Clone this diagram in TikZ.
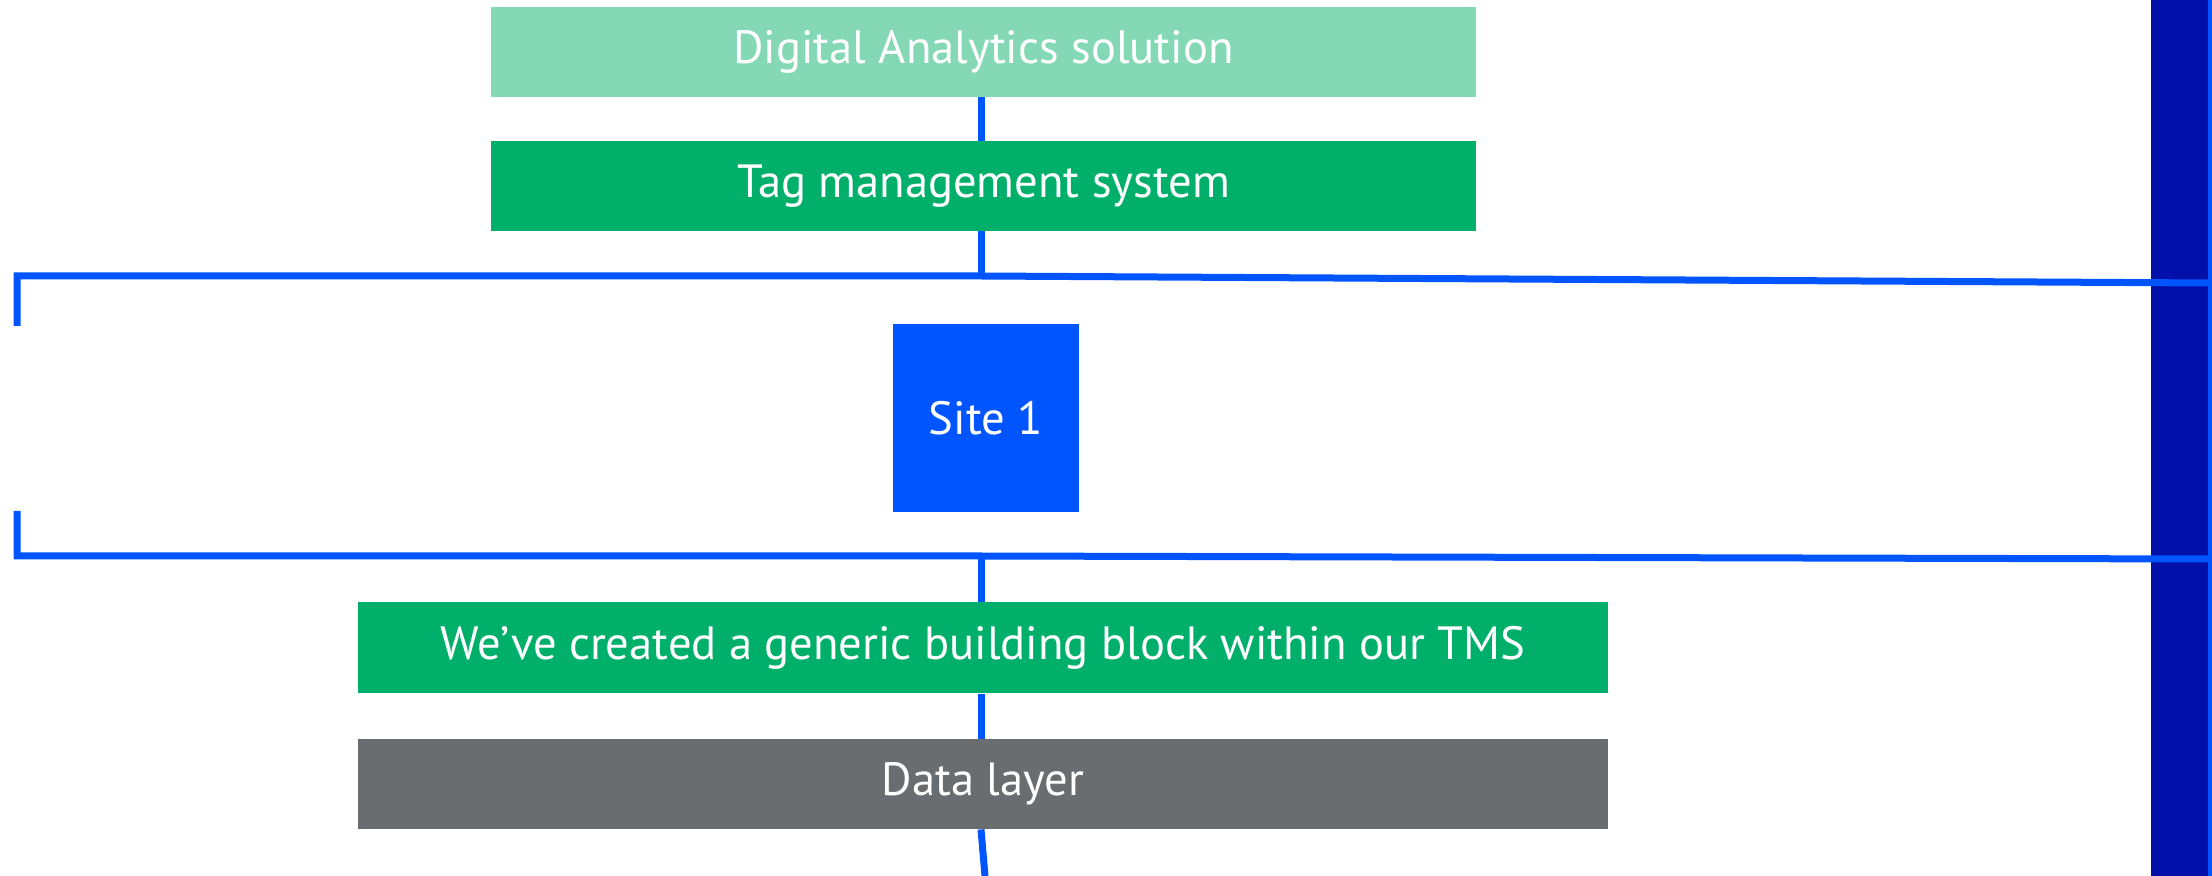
\documentclass[tikz,border=0pt]{standalone}
\usepackage{fontspec}
\setmainfont{PT Sans}
\usetikzlibrary{calc}
\definecolor{lightgreen}{HTML}{84D8B5}
\definecolor{tmsgreen}{HTML}{00B06A}
\definecolor{dlgrey}{HTML}{6A6D70}
\definecolor{siteblue}{HTML}{0055FF}
\definecolor{bandblue}{HTML}{0010A8}
\tikzset{
  box/.style={inner sep=0pt, text=white, font=\fontsize{23.3}{28}\selectfont},
  wire/.style={draw=siteblue, line width=3.5pt},
}
\begin{document}
\begin{tikzpicture}[x=0.5pt, y=-0.5pt]
\useasboundingbox (0,0) rectangle (2212,876);
% right band
\fill[bandblue] (2151,0) rectangle (2208,876);
\fill[siteblue] (2208,0) rectangle (2212,876);
% boxes
\node[box, fill=lightgreen, minimum width=492.5pt, minimum height=45pt] (b1) at (983.5,52) {Digital Analytics solution};
\node[box, fill=tmsgreen, minimum width=492.5pt, minimum height=45pt] (b2) at (983.5,186) {Tag management system};
\node[box, fill=siteblue, minimum width=93pt, minimum height=94pt] (site) at (986,418) {Site 1};
\node[box, fill=tmsgreen, minimum width=625pt, minimum height=45.5pt] (b3) at (983,648) {We’ve created a generic building block within our TMS};
\node[box, fill=dlgrey, minimum width=625pt, minimum height=45pt] (b4) at (983,784) {Data layer};
% bracket coordinates
\coordinate (ta) at (17,326);
\coordinate (tb) at (17,276);
\coordinate (tj) at (981,276);
\coordinate (tc) at (2212,283);
\coordinate (ba) at (17,511);
\coordinate (bb) at (17,556);
\coordinate (bj) at (981,556);
\coordinate (bc) at (2212,559);
\coordinate (end) at (985,876);
% brackets
\draw[wire] (ta) -- (tb) -- (tj) -- (tc);
\draw[wire] (ba) -- (bb) -- (bj) -- (bc);
% connectors
\draw[wire] (b1.south -| tj) -- (b2.north -| tj);
\draw[wire] (b2.south -| tj) -- (tj);
\draw[wire] (bj) -- (b3.north -| bj);
\draw[wire] (b3.south -| bj) -- (b4.north -| bj);
\draw[wire] (b4.south -| bj) -- (end);
\end{tikzpicture}
\end{document}
